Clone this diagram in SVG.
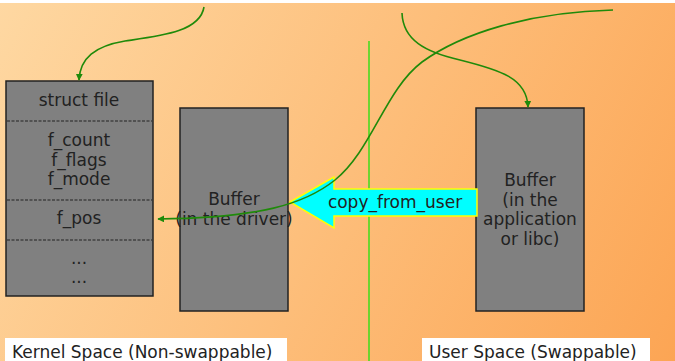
<svg xmlns="http://www.w3.org/2000/svg" width="675" height="361" viewBox="0 0 675 361">
  <defs>
    <linearGradient id="bg" x1="0" y1="0" x2="675" y2="361" gradientUnits="userSpaceOnUse">
      <stop offset="0" stop-color="#fed8a2"/>
      <stop offset="1" stop-color="#fca554"/>
    </linearGradient>
    <marker id="ah" viewBox="0 0 10 10" refX="9" refY="5" markerWidth="7" markerHeight="7" orient="auto" markerUnits="userSpaceOnUse">
      <path d="M0,0 L10,5 L0,10 Z" fill="#1f8a0a"/>
    </marker>
    <style>
      .box { fill: #808080; stroke: #222; stroke-width: 1.5; }
      .sep { stroke: #222; stroke-width: 1; stroke-dasharray: 3 1.5; }
      .t { font-family: "DejaVu Sans", "Liberation Sans", sans-serif; font-size: 17px; fill: #222; text-anchor: middle; }
      .lab { font-family: "DejaVu Sans", "Liberation Sans", sans-serif; font-size: 17px; fill: #222; }
      .flow { fill: none; stroke: #1f8a0a; stroke-width: 1.6; }
    </style>
  </defs>

  <rect width="675" height="361" fill="url(#bg)"/>
  <rect width="675" height="3" fill="#ffffff"/>

  <!-- boundary between kernel and user space -->
  <line x1="369" y1="41" x2="369" y2="361" stroke="#3ddc1a" stroke-width="1.5"/>

  <g id="struct-file">
    <rect class="box" x="6" y="81" width="147" height="215"/>
    <line class="sep" x1="7" y1="121" x2="152" y2="121"/>
    <line class="sep" x1="7" y1="200" x2="152" y2="200"/>
    <line class="sep" x1="7" y1="240" x2="152" y2="240"/>
    <text class="t" x="79" y="106">struct file</text>
    <text class="t" x="79" y="146">f_count</text>
    <text class="t" x="79" y="166">f_flags</text>
    <text class="t" x="79" y="185">f_mode</text>
    <text class="t" x="79" y="224">f_pos</text>
    <text class="t" x="79" y="264">...</text>
    <text class="t" x="79" y="283">...</text>
  </g>

  <g id="driver-buffer">
    <rect class="box" x="180" y="108" width="108" height="203"/>
    <text class="t" x="234" y="205">Buffer</text>
    <text class="t" x="234" y="225">(in the driver)</text>
  </g>

  <g id="user-buffer">
    <rect class="box" x="476" y="108" width="108" height="203"/>
    <text class="t" x="530" y="186">Buffer</text>
    <text class="t" x="530" y="206">(in the</text>
    <text class="t" x="530" y="225">application</text>
    <text class="t" x="530" y="245">or libc)</text>
  </g>

  <g id="copy-from-user">
    <path d="M290,202 L334,177 L334,189 L477,189 L477,216 L334,216 L334,228 Z" fill="#00ffff" stroke="#ffff00" stroke-width="1.5" stroke-linejoin="miter"/>
    <text class="t" x="395" y="208">copy_from_user</text>
  </g>

  <g id="connectors">
    <path class="flow" d="M204,7 C200,32 160,36 125,41 C95,46 80,58 79,80" marker-end="url(#ah)"/>
    <path class="flow" d="M402,13 C403,40 425,52 460,60 C500,70 527,78 528,107" marker-end="url(#ah)"/>
    <path class="flow" d="M613,10 C530,12 462,33 422,62 C385,90 372,150 335,180 C305,204 260,218 158,219" marker-end="url(#ah)"/>
  </g>

  <g id="kernel-label">
    <rect x="5" y="338" width="282" height="23" fill="#ffffff"/>
    <text class="lab" x="12" y="358">Kernel Space (Non-swappable)</text>
  </g>
  <g id="user-label">
    <rect x="422" y="338" width="228" height="23" fill="#ffffff"/>
    <text class="lab" x="429" y="358">User Space (Swappable)</text>
  </g>
</svg>
